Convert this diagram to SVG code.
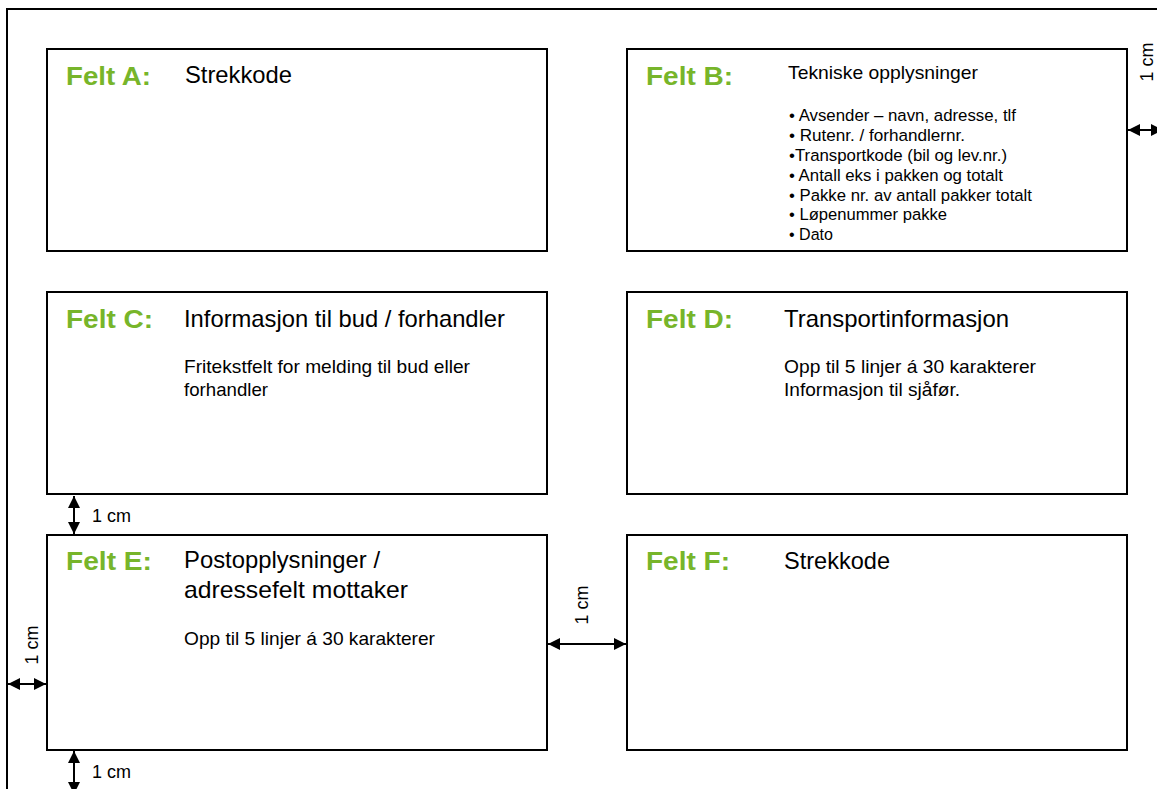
<svg xmlns="http://www.w3.org/2000/svg" width="1157" height="789" viewBox="0 0 1157 789">
<defs>
<style>
.box{fill:#fff;stroke:#000;stroke-width:2}
text{font-family:"Liberation Sans",Arial,sans-serif;fill:#000}
.felt{font-weight:bold;font-size:26px;fill:#77b52a}
.h{font-size:23.8px}
.t{font-size:19px}
.s{font-size:16.8px}
.hs{font-size:19px}
.cm{font-size:18px}
.dim{stroke:#000;stroke-width:2;fill:none;marker-start:url(#ah);marker-end:url(#ah)}
</style>
<marker id="ah" viewBox="0 0 10 10" refX="10" refY="5" markerWidth="6" markerHeight="6.5" orient="auto-start-reverse" markerUnits="strokeWidth">
<path d="M0,0 L10,5 L0,10 z" fill="#000"/>
</marker>
</defs>
<rect width="1157" height="789" fill="#fff"/>
<rect x="7" y="9" width="1200" height="900" fill="none" stroke="#000" stroke-width="2"/>

<g id="felt-a">
<rect class="box" x="47" y="49" width="500" height="202"/>
<text class="felt" x="66" y="85" textLength="85" lengthAdjust="spacingAndGlyphs">Felt A:</text>
<text class="h" x="185" y="83" textLength="107" lengthAdjust="spacingAndGlyphs">Strekkode</text>
</g>

<g id="felt-b">
<rect class="box" x="627" y="49" width="500" height="202"/>
<text class="felt" x="646" y="85" textLength="87" lengthAdjust="spacingAndGlyphs">Felt B:</text>
<text class="hs" x="788" y="79" textLength="190" lengthAdjust="spacingAndGlyphs">Tekniske  opplysninger</text>
<text class="s" x="789" y="121" textLength="227" lengthAdjust="spacingAndGlyphs">• Avsender – navn, adresse, tlf</text>
<text class="s" x="789" y="141" textLength="176" lengthAdjust="spacingAndGlyphs">• Rutenr. / forhandlernr.</text>
<text class="s" x="789" y="161" textLength="218" lengthAdjust="spacingAndGlyphs">•Transportkode (bil og lev.nr.)</text>
<text class="s" x="789" y="181" textLength="214" lengthAdjust="spacingAndGlyphs">• Antall eks i pakken og totalt</text>
<text class="s" x="789" y="201" textLength="243" lengthAdjust="spacingAndGlyphs">• Pakke nr. av antall pakker totalt</text>
<text class="s" x="789" y="220" textLength="158" lengthAdjust="spacingAndGlyphs">• Løpenummer pakke</text>
<text class="s" x="789" y="240" textLength="44" lengthAdjust="spacingAndGlyphs">• Dato</text>
</g>

<g id="felt-c">
<rect class="box" x="47" y="292" width="500" height="202"/>
<text class="felt" x="66" y="328" textLength="87" lengthAdjust="spacingAndGlyphs">Felt C:</text>
<text class="h" x="184" y="327" textLength="321" lengthAdjust="spacingAndGlyphs">Informasjon til bud / forhandler</text>
<text class="t" x="184" y="373" textLength="286" lengthAdjust="spacingAndGlyphs">Fritekstfelt  for melding til bud eller</text>
<text class="t" x="184" y="396" textLength="84" lengthAdjust="spacingAndGlyphs">forhandler</text>
</g>

<g id="felt-d">
<rect class="box" x="627" y="292" width="500" height="202"/>
<text class="felt" x="646" y="328" textLength="87" lengthAdjust="spacingAndGlyphs">Felt D:</text>
<text class="h" x="784" y="327" textLength="225" lengthAdjust="spacingAndGlyphs">Transportinformasjon</text>
<text class="t" x="784" y="373" textLength="252" lengthAdjust="spacingAndGlyphs">Opp til 5 linjer á 30 karakterer</text>
<text class="t" x="784" y="396" textLength="176" lengthAdjust="spacingAndGlyphs">Informasjon til sjåfør.</text>
</g>

<g id="felt-e">
<rect class="box" x="47" y="535" width="500" height="215"/>
<text class="felt" x="66" y="570" textLength="86" lengthAdjust="spacingAndGlyphs">Felt E:</text>
<text class="h" x="184" y="568" textLength="196" lengthAdjust="spacingAndGlyphs">Postopplysninger /</text>
<text class="h" x="184" y="598" textLength="224" lengthAdjust="spacingAndGlyphs">adressefelt  mottaker</text>
<text class="t" x="184" y="645" textLength="251" lengthAdjust="spacingAndGlyphs">Opp til 5 linjer á 30 karakterer</text>
</g>

<g id="felt-f">
<rect class="box" x="627" y="535" width="500" height="215"/>
<text class="felt" x="646" y="570" textLength="84" lengthAdjust="spacingAndGlyphs">Felt F:</text>
<text class="h" x="784" y="569" textLength="106" lengthAdjust="spacingAndGlyphs">Strekkode</text>
</g>

<g id="connectors">
<line class="dim" x1="1128" y1="130" x2="1163" y2="130"/>
<line class="dim" x1="74" y1="496" x2="74" y2="534"/>
<line class="dim" x1="8" y1="684" x2="46" y2="684"/>
<line class="dim" x1="548" y1="644" x2="626" y2="644"/>
<line class="dim" x1="74" y1="751" x2="74" y2="794"/>
<text class="cm" x="92" y="522" textLength="39" lengthAdjust="spacingAndGlyphs">1 cm</text>
<text class="cm" x="92" y="778" textLength="39" lengthAdjust="spacingAndGlyphs">1 cm</text>
<text class="cm" transform="translate(1153,62) rotate(-90)" text-anchor="middle">1 cm</text>
<text class="cm" transform="translate(38,645) rotate(-90)" text-anchor="middle">1 cm</text>
<text class="cm" transform="translate(588,605) rotate(-90)" text-anchor="middle">1 cm</text>
</g>
</svg>
